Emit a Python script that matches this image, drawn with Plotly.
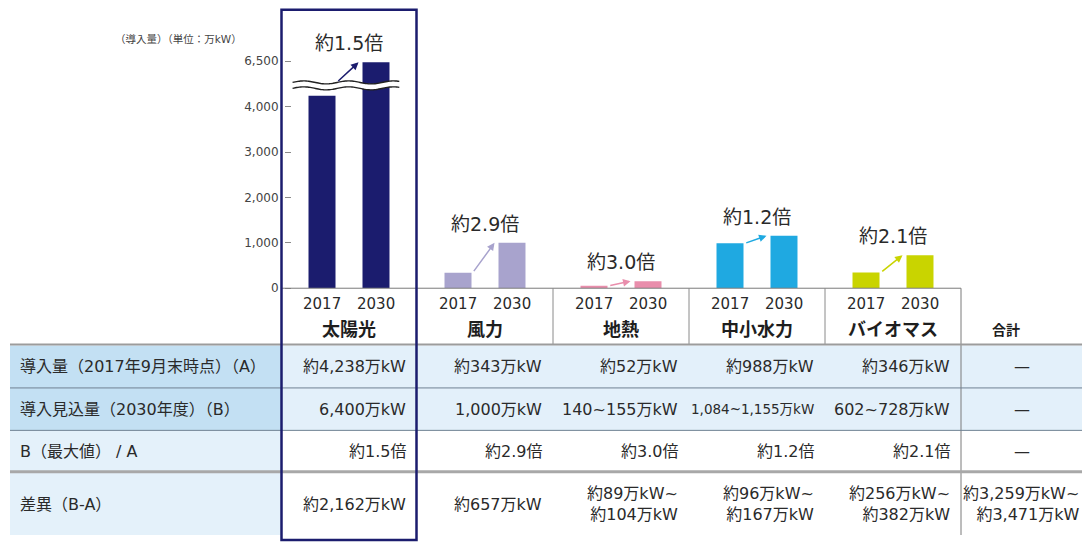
import numpy as np
import plotly.graph_objects as go

# ---------------- data ----------------
categories = ["太陽光", "風力", "地熱", "中小水力", "バイオマス"]
years = ["2017", "2030"]
values_2017 = [4238, 343, 52, 988, 346]
values_2030 = [6400, 1000, 155, 1155, 728]
ratio_labels = ["約1.5倍", "約2.9倍", "約3.0倍", "約1.2倍", "約2.1倍"]
bar_colors = ["#1b1c6e", "#a8a3cd", "#e98eac", "#1fa9e1", "#c9d400"]
y_tick_values = [0, 1000, 2000, 3000, 4000, 6500]
y_axis_title = "（導入量）（単位：万kW）"

total_label = "合計"
row_labels = ["導入量（2017年9月末時点）（A）", "導入見込量（2030年度）（B）",
              "B（最大値） / A", "差異（B-A）"]
row_installed = ["約4,238万kW", "約343万kW", "約52万kW", "約988万kW", "約346万kW", "—"]
row_expected = ["6,400万kW", "1,000万kW", "140~155万kW", "1,084~1,155万kW", "602~728万kW", "—"]
row_ratio = ["約1.5倍", "約2.9倍", "約3.0倍", "約1.2倍", "約2.1倍", "—"]
row_diff = ["約2,162万kW", "約657万kW", "約89万kW~<br>約104万kW", "約96万kW~<br>約167万kW",
            "約256万kW~<br>約382万kW", "約3,259万kW~<br>約3,471万kW"]

# ---------------- layout constants ----------------
W, H = 1082, 542
FONT = "DejaVu Sans, Noto Sans CJK JP"
TXT = "#2a2a2a"
NAVY = "#1b1c6e"
COL_LEFT, COL_W = 281, 136
TOTAL_RIGHT = 1082
BASE_Y, TOP_Y = 292, 10
PX_PER_UNIT = 46 / 1000
BREAK, COMPRESS = 4500, 0.25
BARGAP, BARGROUPGAP = 0.206, 0.5
ROW_EDGES = [350, 393, 436, 478, 542]
HEADER_BOTTOM = 349


def fx(p):
    return p / W


def fy(p):
    return 1 - p / H


def disp(v):
    return v if v <= BREAK else BREAK + (v - BREAK) * COMPRESS


col_edges = [COL_LEFT + COL_W * k for k in range(len(categories) + 1)]
y_top = (BASE_Y - TOP_Y) / PX_PER_UNIT
x_idx = list(range(len(categories)))

fig = go.Figure()
for yr, vals in zip(years, [values_2017, values_2030]):
    fig.add_trace(go.Bar(x=x_idx, y=[disp(v) for v in vals], name=yr,
                         marker=dict(color=bar_colors, line=dict(width=0)),
                         hoverinfo="skip", showlegend=False))

shapes = []
annotations = []


def rect(x0, y0, x1, y1, fill, layer="below"):
    shapes.append(dict(type="rect", xref="paper", yref="paper", x0=fx(x0), x1=fx(x1),
                       y0=fy(y1), y1=fy(y0), fillcolor=fill, line=dict(width=0), layer=layer))


def hline(x0, x1, y, color, width):
    shapes.append(dict(type="line", xref="paper", yref="paper", x0=fx(x0), x1=fx(x1),
                       y0=fy(y), y1=fy(y), line=dict(color=color, width=width), layer="above"))


def vline(x, y0, y1, color, width):
    shapes.append(dict(type="line", xref="paper", yref="paper", x0=fx(x), x1=fx(x),
                       y0=fy(y0), y1=fy(y1), line=dict(color=color, width=width), layer="above"))


# ---- table backgrounds ----
LABEL_LEFT = 10
rect(LABEL_LEFT, ROW_EDGES[0], COL_LEFT, ROW_EDGES[2], "#c3e0f3")
rect(LABEL_LEFT, ROW_EDGES[2], COL_LEFT, ROW_EDGES[4], "#e4f1fa")
rect(COL_LEFT, ROW_EDGES[0], TOTAL_RIGHT, ROW_EDGES[2], "#e3f0fa")

# ---- header box ----
hline(col_edges[0], col_edges[-1], BASE_Y, "#7a7a7a", 1)
for e in col_edges[2:-1]:
    vline(e, BASE_Y, HEADER_BOTTOM, "#8a8a8a", 1)
vline(col_edges[-1], BASE_Y, H, "#7a7a7a", 1)

# ---- table row lines ----
hline(LABEL_LEFT, TOTAL_RIGHT, ROW_EDGES[0] - 1, "#9c9c9c", 2)
hline(LABEL_LEFT, TOTAL_RIGHT, ROW_EDGES[1], "#6f8192", 1)
hline(LABEL_LEFT, TOTAL_RIGHT, ROW_EDGES[2], "#6f8192", 1)
hline(LABEL_LEFT, TOTAL_RIGHT, ROW_EDGES[3], "#a8a8a8", 3)

# ---- axis break (wavy band on the solar column) ----
wx = np.linspace(-0.415, 0.37, 80)
phase = 2 * np.pi * (wx - wx[0]) / 0.33
up_c, lo_c, amp = 4533, 4402, 33
up = up_c + amp * np.sin(phase)
lo = lo_c + amp * np.sin(phase)


def path(xs, ys, close=False):
    s = "M " + " L ".join(f"{a:.4f},{b:.2f}" for a, b in zip(xs, ys))
    return s + (" Z" if close else "")


shapes.append(dict(type="path", xref="x", yref="y",
                   path=path(np.concatenate([wx, wx[::-1]]), np.concatenate([up, lo[::-1]]), True),
                   fillcolor="white", line=dict(width=0), layer="above"))
for ys in (up, lo):
    shapes.append(dict(type="path", xref="x", yref="y", path=path(wx, ys),
                       line=dict(color="#222222", width=1.4), layer="above"))

# ---- navy highlight box around solar ----
shapes.append(dict(type="rect", xref="paper", yref="paper", x0=fx(col_edges[0] + 0.5),
                   x1=fx(col_edges[1] - 0.5), y0=fy(H + 5), y1=fy(TOP_Y),
                   line=dict(color=NAVY, width=2.5), fillcolor="rgba(0,0,0,0)", layer="above"))

# ---- bar annotations: arrows & ratios ----
offset = (1 - BARGAP) / 4
for i, (v17, v30) in enumerate(zip(values_2017, values_2030)):
    tail_y = disp(v17) if v30 <= BREAK else up_c
    annotations.append(dict(x=i + 0.07, y=disp(v30), ax=i - 0.09, ay=tail_y,
                            xref="x", yref="y", axref="x", ayref="y", text="",
                            showarrow=True, arrowhead=2, arrowsize=1, arrowwidth=1.5,
                            arrowcolor=bar_colors[i], standoff=0, startstandoff=0))
    annotations.append(dict(x=i, y=disp(v30), xref="x", yref="y", text=ratio_labels[i],
                            showarrow=False, yshift=19, yanchor="middle",
                            font=dict(family=FONT, size=19, color=TXT)))
    for j, yr in enumerate(years):
        annotations.append(dict(x=i + (offset if j else -offset), y=fy(308), xref="x", yref="paper",
                                text=yr, showarrow=False, yanchor="middle",
                                font=dict(family=FONT, size=15, color=TXT)))
    annotations.append(dict(x=i, y=fy(334), xref="x", yref="paper", text=categories[i],
                            showarrow=False, yanchor="middle",
                            font=dict(family=FONT, size=18, color="#1e1e1e", weight="bold")))

annotations.append(dict(x=fx((col_edges[-1] + TOTAL_RIGHT) / 2), y=fy(334), xref="paper",
                        yref="paper", text=total_label, showarrow=False, yanchor="middle",
                        font=dict(family=FONT, size=14, color="#1e1e1e", weight="bold")))
annotations.append(dict(x=fx(244), y=fy(40), xref="paper", yref="paper", text=y_axis_title,
                        showarrow=False, xanchor="right", yanchor="middle",
                        font=dict(family=FONT, size=10.5, color="#444444")))

# ---- table texts ----
rows = [row_installed, row_expected, row_ratio, row_diff]
PAD = 9
for r, (lab, cells) in enumerate(zip(row_labels, rows)):
    yc = (ROW_EDGES[r] + ROW_EDGES[r + 1]) / 2 + (1 if r == 3 else 0)
    annotations.append(dict(x=fx(LABEL_LEFT + 8), y=fy(yc), xref="paper", yref="paper",
                            text=lab, showarrow=False, xanchor="left", yanchor="middle",
                            font=dict(family=FONT, size=16, color=TXT)))
    for c, txt in enumerate(cells):
        size = 16
        if len(txt.replace("<br>", "")) > 13 and "<br>" not in txt:
            size = 13.5
        if c < len(categories):
            x = fx(col_edges[c + 1] - PAD)
            xa = "right"
        elif "<br>" in txt:
            x = fx(TOTAL_RIGHT - 1)
            xa = "right"
        else:
            x = fx((col_edges[-1] + TOTAL_RIGHT) / 2)
            xa = "center"
        annotations.append(dict(x=x, y=fy(yc), xref="paper", yref="paper", text=txt,
                                showarrow=False, xanchor=xa, yanchor="middle", align="right",
                                font=dict(family=FONT, size=size, color=TXT)))

fig.update_layout(
    width=W, height=H, margin=dict(l=0, r=0, t=0, b=0, pad=0),
    paper_bgcolor="white", plot_bgcolor="rgba(0,0,0,0)",
    barmode="group", bargap=BARGAP, bargroupgap=BARGROUPGAP,
    xaxis=dict(domain=[fx(col_edges[0]), fx(col_edges[-1])], range=[-0.5, len(categories) - 0.5],
               showticklabels=False, showgrid=False, zeroline=False, showline=False, ticks=""),
    yaxis=dict(domain=[fy(BASE_Y), fy(TOP_Y)], range=[0, y_top], anchor="free", position=fx(291),
               tickvals=[disp(v) for v in y_tick_values],
               ticktext=[f"{v:,}" for v in y_tick_values],
               ticks="outside", ticklen=6, tickcolor="#8a8a8a", tickwidth=1,
               ticklabelstandoff=4,
               tickfont=dict(family=FONT, size=12, color="#444444"),
               showgrid=False, zeroline=False, showline=False),
    shapes=shapes, annotations=annotations,
)

fig.write_html("out.html")
